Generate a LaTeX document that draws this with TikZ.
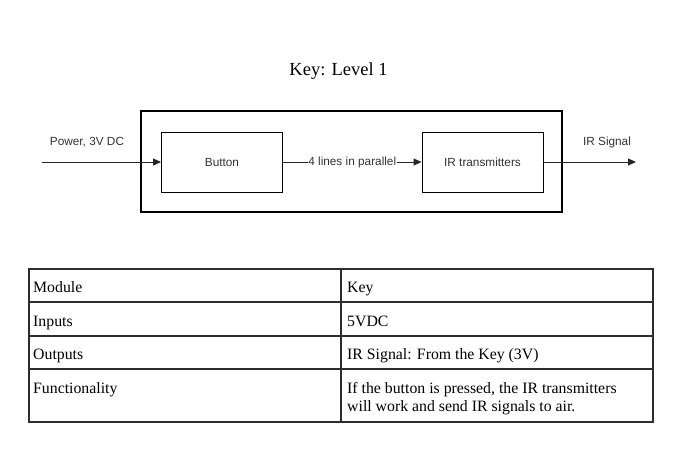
\documentclass[tikz,border=0pt]{standalone}
\usepackage{fontspec}
\setmainfont{Liberation Serif}
\newfontfamily\diagfont{Liberation Sans}
\usetikzlibrary{arrows.meta}
\definecolor{linegray}{RGB}{45,45,45}
\tikzset{
  blockbox/.style={draw=black, line width=0.9pt, minimum width=121pt, minimum height=60pt, inner sep=0pt, font=\diagfont\fontsize{11.8}{14}\selectfont, text=black!80},
  sig/.style={draw=black!85, line width=0.9pt, -{Triangle[length=8pt,width=7pt]}},
  edgelabel/.style={font=\diagfont\fontsize{11.8}{14}\selectfont, text=black!80, inner sep=1pt},
  celltext/.style={anchor=base west, inner sep=0pt, font=\fontsize{15.8}{20}\selectfont},
  tableline/.style={draw=linegray, line width=1.2pt}
}
\begin{document}
\begin{tikzpicture}[x=1pt,y=-1pt]
\useasboundingbox[fill=white] (0,0) rectangle (682,460);
% title
\node[font=\fontsize{18.5}{22}\selectfont] (title) at (338.5,71) {Key: Level 1};
% outer box
\draw[line width=2pt] (141,111) rectangle (562,212);
\coordinate (outer) at (351.5,161.5);
% blocks
\node[blockbox] (button) at (222,162) {Button};
\node[blockbox] (irt) at (482.5,162) {IR transmitters};
% input / output
\coordinate (pin) at (42,162);
\coordinate (pout) at (636,162);
\draw[sig] (pin) -- (button.west);
\node[edgelabel] (powlabel) at (87,142) {Power, 3V DC};
\draw[sig] (irt.east) -- (pout);
\node[edgelabel] (irlabel) at (607,142) {IR Signal};
\draw[sig] (button.east) -- node[edgelabel, fill=white, inner sep=0.5pt] (midlabel) {4 lines in parallel} (irt.west);
% table
\coordinate (tl) at (29,269);
\coordinate (br) at (653,422);
\draw[tableline] (tl) rectangle (br);
\draw[tableline] (29,302) -- (653,302);
\draw[tableline] (29,336) -- (653,336);
\draw[tableline] (29,369) -- (653,369);
\draw[tableline] (341,269) -- (341,422);
\node[celltext] (c11) at (33,292) {Module};
\node[celltext] (c12) at (347,292) {Key};
\node[celltext] (c21) at (33,326.5) {Inputs};
\node[celltext] (c22) at (347,326.5) {5VDC};
\node[celltext] (c31) at (33,359.5) {Outputs};
\node[celltext] (c32) at (347,359.5) {IR Signal: From the Key (3V)};
\node[celltext] (c41) at (33,393) {Functionality};
\node[celltext] (c42a) at (347,393) {If the button is pressed, the IR transmitters};
\node[celltext] (c42b) at (347,411) {will work and send IR signals to air.};
\end{tikzpicture}
\end{document}
